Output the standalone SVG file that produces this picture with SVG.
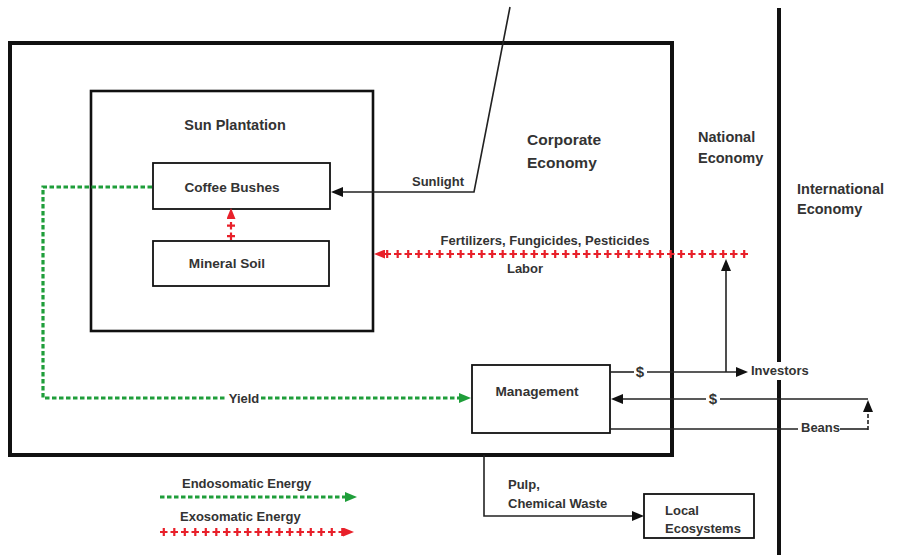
<svg xmlns="http://www.w3.org/2000/svg" width="898" height="555" viewBox="0 0 898 555">
<style>
  text { font-family: "Liberation Sans", Arial, sans-serif; font-weight: bold; fill: #333; font-size: 13px; }
  text.big { font-size: 15.5px; }
  text.med { font-size: 14.5px; }
  text.title { font-size: 14.5px; }
  text.nm { font-size: 13.6px; }
  text.dol { font-size: 15px; }
  .box { fill: none; stroke: #111; stroke-width: 1.8; }
  .ln { fill: none; stroke: #222; stroke-width: 1.6; }
  .endo { fill: none; stroke: #1f9e3a; stroke-width: 3.2; stroke-dasharray: 4.5 2.5; }
  .exoH { fill: none; stroke: #e8202a; stroke-width: 2.2; stroke-dasharray: 7.5 3; }
  .exoV { fill: none; stroke: #e8202a; stroke-width: 8; stroke-dasharray: 2.2 8.3; stroke-dashoffset: 7.8; }
</style>
<defs>
  <marker id="arrB" markerUnits="userSpaceOnUse" markerWidth="12" markerHeight="10" refX="0" refY="5" orient="auto">
    <path d="M0,0 L12,5 L0,10 z" fill="#111"/>
  </marker>
  <marker id="arrG" markerUnits="userSpaceOnUse" markerWidth="12" markerHeight="10" refX="0" refY="5" orient="auto">
    <path d="M0,0 L12,5 L0,10 z" fill="#1f9e3a"/>
  </marker>
  <marker id="arrR" markerUnits="userSpaceOnUse" markerWidth="11" markerHeight="9" refX="0" refY="4.5" orient="auto">
    <path d="M0,0 L11,4.5 L0,9 z" fill="#e8202a"/>
  </marker>
</defs>
<rect width="898" height="555" fill="#fff"/>

<g id="corporate-economy">
  <rect x="10" y="43" width="662" height="412" fill="none" stroke="#111" stroke-width="4"/>
  <text class="big" x="527" y="145">Corporate</text>
  <text class="big" x="527" y="168">Economy</text>
</g>
<g id="national-economy">
  <text class="med" x="698" y="142">National</text>
  <text class="med" x="698" y="163">Economy</text>
</g>
<g id="international-economy">
  <line x1="779" y1="8" x2="779" y2="362" stroke="#111" stroke-width="4"/>
  <line x1="779" y1="380" x2="779" y2="555" stroke="#111" stroke-width="4"/>
  <text class="med" x="797" y="194">International</text>
  <text class="med" x="797" y="214">Economy</text>
</g>
<g id="sun-plantation">
  <rect x="91" y="91" width="282" height="240" fill="none" stroke="#111" stroke-width="2.6"/>
  <text class="title" x="235" y="130" text-anchor="middle">Sun Plantation</text>
</g>
<g id="coffee-bushes">
  <rect class="box" x="153" y="163" width="177" height="46"/>
  <text class="nm" x="232" y="192" text-anchor="middle">Coffee Bushes</text>
</g>
<g id="mineral-soil">
  <rect class="box" x="153" y="241" width="176" height="45"/>
  <text class="nm" x="227" y="268" text-anchor="middle">Mineral Soil</text>
</g>
<g id="management">
  <rect class="box" x="472" y="365" width="138" height="68"/>
  <text class="nm" x="537" y="396" text-anchor="middle">Management</text>
</g>
<g id="local-ecosystems">
  <rect class="box" x="644" y="494" width="110" height="44"/>
  <text x="665" y="515">Local</text>
  <text x="665" y="533">Ecosystems</text>
</g>

<g id="connectors">
  <polyline class="ln" points="510,7 474,192 343,192" marker-end="url(#arrB)"/>
  <text x="412" y="186">Sunlight</text>
  <path class="exoH" d="M231,240 L231,219" marker-end="url(#arrR)"/>
  <path class="exoV" d="M231,240 L231,222"/>
  <path class="exoH" d="M748,254 L385,254" marker-end="url(#arrR)"/>
  <path class="exoV" d="M748,254 L385,254"/>
  <text x="545" y="245" text-anchor="middle">Fertilizers, Fungicides, Pesticides</text>
  <text x="525" y="273" text-anchor="middle">Labor</text>
  <path class="endo" d="M152,187 L43,187 L43,398 L227,398"/>
  <path class="endo" d="M261,398 L459,398" marker-end="url(#arrG)"/>
  <text x="244" y="403" text-anchor="middle">Yield</text>
  <line class="ln" x1="610" y1="372" x2="634" y2="372"/>
  <text class="dol" x="640" y="377" text-anchor="middle">$</text>
  <line class="ln" x1="647" y1="372" x2="736" y2="372" marker-end="url(#arrB)"/>
  <text x="751" y="375">Investors</text>
  <line class="ln" x1="726" y1="372" x2="726" y2="271" marker-end="url(#arrB)"/>
  <line class="ln" x1="868" y1="399" x2="720" y2="399"/>
  <text class="dol" x="713" y="404" text-anchor="middle">$</text>
  <line class="ln" x1="706" y1="399" x2="623" y2="399" marker-end="url(#arrB)"/>
  <line class="ln" x1="610" y1="429" x2="798" y2="429"/>
  <text x="801" y="432">Beans</text>
  <line class="ln" x1="840" y1="429" x2="868" y2="429"/>
  <line class="ln" x1="868" y1="430" x2="868" y2="412" stroke-dasharray="4 2" marker-end="url(#arrB)"/>
  <polyline class="ln" points="484,455 484,516 632,516" marker-end="url(#arrB)"/>
  <text x="508" y="489">Pulp,</text>
  <text x="508" y="508">Chemical Waste</text>
</g>

<g id="legend">
  <text x="182" y="488">Endosomatic Energy</text>
  <path class="endo" d="M160,497 L345,497" marker-end="url(#arrG)"/>
  <text x="180" y="521">Exosomatic Energy</text>
  <path class="exoH" d="M160,532 L343,532" marker-end="url(#arrR)"/>
  <path class="exoV" d="M160,532 L343,532"/>
</g>
</svg>
